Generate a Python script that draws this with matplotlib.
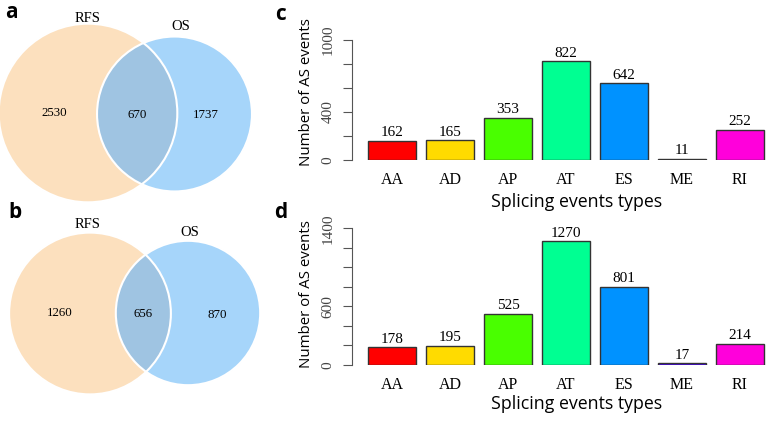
import matplotlib.pyplot as plt
from matplotlib.patches import Circle
import numpy as np

# Venn data
venn_a = {'RFS': 2530, 'both': 670, 'OS': 1737}
venn_b = {'RFS': 1260, 'both': 656, 'OS': 870}

# Bar data
types = ['AA', 'AD', 'AP', 'AT', 'ES', 'ME', 'RI']
counts_c = [162, 165, 353, 822, 642, 11, 252]
counts_d = [178, 195, 525, 1270, 801, 17, 214]
bar_colors = ['#FF0000', '#FFDB00', '#49FF00', '#00FF92', '#0092FF', '#4900FF', '#FF00DB']

W, H = 774, 422
fig = plt.figure(figsize=(W / 100, H / 100), dpi=100)

serif = 'Liberation Serif'
sans = 'Open Sans'

# ---- Venn diagrams, drawn in pixel coordinates ----
vax = fig.add_axes([0, 0, 1, 1])
vax.set_xlim(0, W)
vax.set_ylim(H, 0)
vax.axis('off')

col_left = '#FCE0BE'
col_right = '#A6D5FA'
col_both = '#9FC4E2'


def venn(data, scale, c_left, c_right, lab_left, lab_right):
    r1 = scale * np.sqrt(data['RFS'] + data['both'])
    r2 = scale * np.sqrt(data['OS'] + data['both'])
    left = Circle(c_left, r1, facecolor=col_left, edgecolor='none')
    right = Circle(c_right, r2, facecolor=col_right, edgecolor='none')
    vax.add_patch(left)
    vax.add_patch(right)
    lens = Circle(c_left, r1, facecolor=col_both, edgecolor='none')
    vax.add_patch(lens)
    lens.set_clip_path(right)
    vax.add_patch(Circle(c_left, r1, fill=False, edgecolor='white', lw=1.5))
    vax.add_patch(Circle(c_right, r2, fill=False, edgecolor='white', lw=1.5))
    vax.text(*lab_left, 'RFS', family=serif, fontsize=10.5, ha='center', va='center')
    vax.text(*lab_right, 'OS', family=serif, fontsize=10.5, ha='center', va='center')
    # number positions
    xl = c_left[0] - r1 * 0.38
    xb = (c_right[0] - r2 + c_left[0] + r1) / 2
    xr = c_right[0] + r2 * 0.4
    y = (c_left[1] + c_right[1]) / 2
    vax.text(xl, y, str(data['RFS']), family=serif, fontsize=9.3, ha='center', va='center')
    vax.text(xb, y + 1, str(data['both']), family=serif, fontsize=9.3, ha='center', va='center')
    vax.text(xr, y + 2, str(data['OS']), family=serif, fontsize=9.3, ha='center', va='center')


venn(venn_a, 1.579, (88, 113), (174.5, 114), (88, 18), (181, 27))
venn(venn_b, 1.848, (90, 313.5), (188, 313), (88, 224), (190, 232))

for lab, x, y in [('a', 11, 13), ('b', 15, 212), ('c', 281, 15), ('d', 281, 212)]:
    fig.text(x / W, 1 - y / H, lab, family=sans, fontweight='bold', fontsize=15,
             ha='center', va='center')

# ---- Bar charts ----
xpos = 0.7 + 1.2 * np.arange(len(types))


def bars(counts, y0, ytop, ymax, tick_labels, ylab_y, xlab_y):
    ax = fig.add_axes([352 / W, 1 - y0 / H, 422 / W, (y0 - ytop) / H])
    ax.bar(xpos, counts, width=1, color=bar_colors, edgecolor='#333333', linewidth=1)
    ax.set_xlim(-0.131, 8.607)
    ax.set_ylim(0, ymax)
    for s in ['top', 'right', 'bottom']:
        ax.spines[s].set_visible(False)
    ax.spines['left'].set_color('#555555')
    ax.spines['left'].set_bounds(0, ymax)
    ticks = np.arange(0, ymax + 1, 200)
    ax.set_yticks(ticks)
    ax.set_yticklabels([str(t) if t in tick_labels else '' for t in ticks],
                       rotation=90, va='center', family=serif, fontsize=11, color='#444444')
    ax.tick_params(axis='y', length=6.5, color='#555555', pad=6)
    ax.set_xticks(xpos)
    ax.set_xticklabels(types, family=serif, fontsize=11.5)
    ax.tick_params(axis='x', length=0, pad=9)
    for x, v in zip(xpos, counts):
        ax.annotate(str(v), (x, v), xytext=(0, 1), textcoords='offset points',
                    ha='center', va='bottom', family=serif, fontsize=11)
    fig.text(307 / W, 1 - ylab_y / H, 'Number of AS events', family=sans, fontsize=10.8,
             rotation=90, ha='center', va='center')
    fig.text(577 / W, 1 - xlab_y / H, 'Splicing events types', family=sans, fontsize=12.8,
             ha='center', va='center')
    ax.patch.set_alpha(0)


bars(counts_c, 160, 40, 1000, [0, 400, 1000], 92, 202)
bars(counts_d, 364.7, 228.3, 1400, [0, 600, 1400], 294, 404)

fig.savefig('out.png', dpi=100)
